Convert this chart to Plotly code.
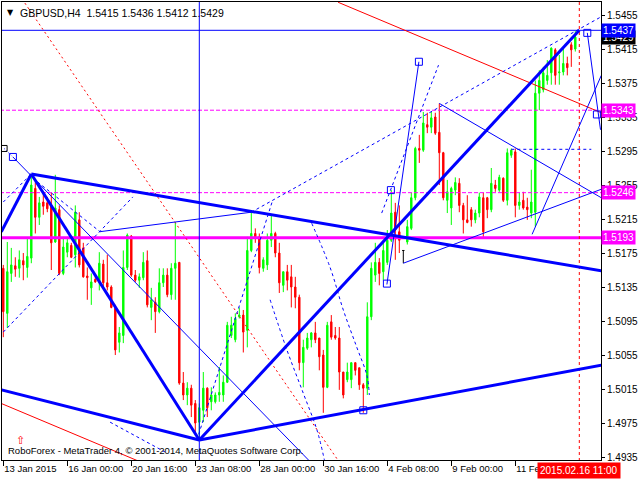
import plotly.graph_objects as go

# ---------------- data ----------------
symbol = "GBPUSD,H4"
opens = [1.5157, 1.5104, 1.5151, 1.5160, 1.5157, 1.5166, 1.5158, 1.5169, 1.5251, 1.5217,
         1.5235, 1.5234, 1.5231, 1.5188, 1.5226, 1.5151, 1.5176, 1.5184, 1.5173, 1.5214,
         1.5181, 1.5148, 1.5134, 1.5144, 1.5141, 1.5162, 1.5140, 1.5135, 1.5110, 1.5070,
         1.5078, 1.5158, 1.5195, 1.5149, 1.5143, 1.5146, 1.5166, 1.5111, 1.5117, 1.5106,
         1.5140, 1.5149, 1.5126, 1.5157, 1.5164, 1.5022, 1.5008, 1.5016, 1.4998, 1.4976,
         1.4990, 1.5016, 1.5000, 1.5000, 1.5008, 1.5008, 1.5023, 1.5078, 1.5073, 1.5100,
         1.5102, 1.5084, 1.5178, 1.5198, 1.5194, 1.5157, 1.5161, 1.5190, 1.5198, 1.5175,
         1.5137, 1.5153, 1.5147, 1.5135, 1.5123, 1.5046, 1.5063, 1.5073, 1.5081, 1.5075,
         1.5055, 1.5017, 1.5094, 1.5078, 1.5075, 1.5035, 1.5026, 1.5026, 1.5046, 1.5040,
         1.5020, 1.5016, 1.5100, 1.5149, 1.5164, 1.5153, 1.5164, 1.5190, 1.5223, 1.5200,
         1.5178, 1.5188, 1.5204, 1.5240, 1.5298, 1.5296, 1.5326, 1.5323, 1.5335, 1.5317,
         1.5293, 1.5237, 1.5228, 1.5249, 1.5257, 1.5231, 1.5214, 1.5226, 1.5214, 1.5222,
         1.5240, 1.5240, 1.5226, 1.5255, 1.5249, 1.5263, 1.5237, 1.5290, 1.5294, 1.5231,
         1.5237, 1.5229, 1.5222, 1.5223, 1.5363, 1.5367, 1.5378, 1.5387, 1.5414, 1.5387,
         1.5388, 1.5398, 1.5420, 1.5415]
highs = [1.5161, 1.5188, 1.5181, 1.5170, 1.5178, 1.5175, 1.5193, 1.5268, 1.5258, 1.5241,
         1.5246, 1.5241, 1.5246, 1.5267, 1.5231, 1.5194, 1.5194, 1.5187, 1.5231, 1.5223,
         1.5187, 1.5158, 1.5151, 1.5147, 1.5176, 1.5167, 1.5173, 1.5137, 1.5114, 1.5088,
         1.5178, 1.5198, 1.5196, 1.5155, 1.5151, 1.5176, 1.5178, 1.5134, 1.5123, 1.5157,
         1.5157, 1.5157, 1.5163, 1.5211, 1.5164, 1.5035, 1.5023, 1.5020, 1.5002, 1.4998,
         1.5035, 1.5017, 1.5017, 1.5011, 1.5041, 1.5031, 1.5094, 1.5100, 1.5104, 1.5111,
         1.5108, 1.5194, 1.5223, 1.5204, 1.5198, 1.5170, 1.5198, 1.5220, 1.5200, 1.5187,
         1.5153, 1.5161, 1.5161, 1.5147, 1.5126, 1.5073, 1.5081, 1.5082, 1.5094, 1.5075,
         1.5061, 1.5094, 1.5102, 1.5088, 1.5088, 1.5035, 1.5046, 1.5046, 1.5046, 1.5040,
         1.5022, 1.5117, 1.5164, 1.5187, 1.5169, 1.5190, 1.5202, 1.5249, 1.5234, 1.5231,
         1.5178, 1.5214, 1.5246, 1.5300, 1.5314, 1.5341, 1.5340, 1.5341, 1.5340, 1.5351,
         1.5294, 1.5261, 1.5253, 1.5264, 1.5263, 1.5234, 1.5243, 1.5229, 1.5226, 1.5246,
         1.5246, 1.5241, 1.5275, 1.5261, 1.5267, 1.5264, 1.5298, 1.5298, 1.5298, 1.5246,
         1.5247, 1.5240, 1.5273, 1.5378, 1.5390, 1.5394, 1.5402, 1.5417, 1.5416, 1.5408,
         1.5417, 1.5406, 1.5423, 1.5436]
lows = [1.5076, 1.5087, 1.5141, 1.5147, 1.5146, 1.5143, 1.5146, 1.5163, 1.5198, 1.5208,
        1.5220, 1.5223, 1.5155, 1.5187, 1.5149, 1.5149, 1.5170, 1.5169, 1.5158, 1.5158,
        1.5146, 1.5120, 1.5114, 1.5140, 1.5131, 1.5135, 1.5131, 1.5110, 1.5055, 1.5058,
        1.5069, 1.5155, 1.5147, 1.5141, 1.5134, 1.5143, 1.5111, 1.5096, 1.5081, 1.5104,
        1.5135, 1.5123, 1.5120, 1.5120, 1.5020, 1.5002, 1.4996, 1.4982, 1.4961, 1.4955,
        1.4976, 1.4982, 1.4990, 1.4998, 1.5000, 1.5000, 1.5022, 1.5075, 1.5070, 1.5098,
        1.5058, 1.5064, 1.5176, 1.5187, 1.5151, 1.5153, 1.5155, 1.5182, 1.5170, 1.5128,
        1.5129, 1.5131, 1.5111, 1.5110, 1.5037, 1.5017, 1.5061, 1.5064, 1.5069, 1.5037,
        1.4987, 1.5016, 1.5073, 1.5073, 1.5014, 1.5004, 1.5023, 1.5016, 1.5031, 1.5014,
        1.4987, 1.5008, 1.5096, 1.5141, 1.5137, 1.5143, 1.5161, 1.5188, 1.5167, 1.5175,
        1.5163, 1.5185, 1.5202, 1.5237, 1.5281, 1.5294, 1.5316, 1.5316, 1.5314, 1.5255,
        1.5237, 1.5222, 1.5208, 1.5243, 1.5223, 1.5198, 1.5210, 1.5206, 1.5210, 1.5217,
        1.5194, 1.5216, 1.5223, 1.5247, 1.5247, 1.5235, 1.5231, 1.5287, 1.5217, 1.5226,
        1.5226, 1.5214, 1.5216, 1.5206, 1.5343, 1.5364, 1.5373, 1.5373, 1.5373, 1.5373,
        1.5384, 1.5384, 1.5394, 1.5412]
closes = [1.5106, 1.5153, 1.5161, 1.5156, 1.5167, 1.5161, 1.5171, 1.5255, 1.5217, 1.5234,
          1.5230, 1.5227, 1.5187, 1.5228, 1.5151, 1.5182, 1.5187, 1.5170, 1.5223, 1.5161,
          1.5147, 1.5146, 1.5141, 1.5141, 1.5163, 1.5140, 1.5135, 1.5111, 1.5061, 1.5081,
          1.5158, 1.5196, 1.5149, 1.5143, 1.5147, 1.5164, 1.5114, 1.5120, 1.5106, 1.5140,
          1.5149, 1.5126, 1.5157, 1.5163, 1.5022, 1.5008, 1.5016, 1.4996, 1.4975, 1.4993,
          1.5016, 1.4993, 1.5008, 1.5008, 1.5011, 1.5023, 1.5090, 1.5090, 1.5098, 1.5102,
          1.5082, 1.5178, 1.5198, 1.5194, 1.5158, 1.5167, 1.5190, 1.5198, 1.5175, 1.5140,
          1.5153, 1.5143, 1.5135, 1.5123, 1.5046, 1.5064, 1.5075, 1.5081, 1.5073, 1.5053,
          1.5017, 1.5090, 1.5076, 1.5075, 1.5035, 1.5008, 1.5035, 1.5046, 1.5037, 1.5020,
          1.5016, 1.5100, 1.5157, 1.5164, 1.5151, 1.5178, 1.5190, 1.5222, 1.5202, 1.5190,
          1.5178, 1.5206, 1.5240, 1.5298, 1.5296, 1.5328, 1.5323, 1.5334, 1.5316, 1.5293,
          1.5240, 1.5247, 1.5251, 1.5258, 1.5231, 1.5214, 1.5211, 1.5214, 1.5222, 1.5241,
          1.5200, 1.5226, 1.5257, 1.5251, 1.5264, 1.5237, 1.5293, 1.5296, 1.5231, 1.5235,
          1.5228, 1.5226, 1.5235, 1.5363, 1.5378, 1.5387, 1.5384, 1.5416, 1.5384, 1.5388,
          1.5398, 1.5393, 1.5414, 1.5429]
doji_bar = 100          # drawn in the neutral (black) colour

tick_bars = [0, 16, 32, 48, 64, 80, 96, 112, 128]
tick_texts = ["13 Jan 2015", "16 Jan 00:00", "20 Jan 16:00", "23 Jan 08:00", "28 Jan 00:00",
              "30 Jan 16:00", "4 Feb 08:00", "9 Feb 00:00", "11 Feb 16:00"]
price_ticks = [1.4935, 1.4975, 1.5015, 1.5055, 1.5095, 1.5135, 1.5175, 1.5215,
               1.5255, 1.5295, 1.5335, 1.5375, 1.5415, 1.5455]
cursor_bar = 144
cursor_text = "2015.02.16 11:00"
copyright_text = "RoboForex - MetaTrader 4, © 2001-2014, MetaQuotes Software Corp."

# horizontal levels: (price, colour, width, dash)
h_levels = [(1.5437, "#0000ff", 1, "solid"),
            (1.5343, "#ff00ff", 1, "4px,2px"),
            (1.5246, "#ff00ff", 1, "4px,2px"),
            (1.5193, "#ff00ff", 3, "solid")]
# trend lines (bar0, price0, bar1, price1)
thick_lines = [(-0.5, 1.5200, 7, 1.5268),
               (7, 1.5268, 49, 1.4955),
               (7, 1.5268, 149.5, 1.5154),
               (49, 1.4955, 144, 1.5437),
               (49, 1.4955, 149.5, 1.5043),
               (-0.5, 1.5014, 49, 1.4955)]
thin_lines = [(2.4, 1.5288, 76.4, 1.4931),
              (24, 1.5200, 62, 1.5223),
              (109, 1.5351, 149.5, 1.5240),
              (100, 1.5163, 149.5, 1.5250),
              (103.9, 1.5400, 95.9, 1.5138),
              (146, 1.5434, 149.3, 1.5320),
              (132.2, 1.5197, 149.5, 1.5384)]
dashed_lines = [(0, 1.5082, 32.4, 1.5241),
                (0, 1.5235, 7, 1.5268),
                (7.4, 1.5263, 24.2, 1.5200),
                (48.4, 1.4955, 67.2, 1.5235),
                (62, 1.5223, 149.5, 1.5453),
                (127, 1.5297, 147, 1.5297),
                (94.6, 1.5222, 108.8, 1.5396),
                (26.7, 1.4976, 40.4, 1.4941)]
# dashed Fibonacci arcs (bar, price) polylines
arcs = [[(77.1, 1.5210), (81.7, 1.5158), (85.0, 1.5108), (88.3, 1.5065), (90.9, 1.5031), (91.5, 1.5008)],
        [(66.7, 1.5120), (70.9, 1.5061), (75.0, 1.5010), (78.4, 1.4967), (80.3, 1.4931)]]
red_lines = [(-0.5, 1.4998, 33.4, 1.4931),
             (83.7, 1.5470, 149.5, 1.5340)]
red_dotted = [(5.4, 1.5469, 83.7, 1.4931)]
dotted_black = [(0.2, 1.5298, 2.4, 1.5288)]
vertical_blue_bar = 49
anchor_bars = [2.4, 103.9, 96.9, 95.9, 90, 146, 148.4]
anchor_prices = [1.5288, 1.5400, 1.5249, 1.5139, 1.4990, 1.5434, 1.5338]

# ---------------- figure ----------------
x0, x1 = -0.325, 149.425
y0, y1 = 1.49315, 1.54703
fig = go.Figure()

keep = [i for i in range(len(opens)) if i != doji_bar]
fig.add_trace(go.Candlestick(
    x=keep, open=[opens[i] for i in keep], high=[highs[i] for i in keep],
    low=[lows[i] for i in keep], close=[closes[i] for i in keep],
    increasing=dict(line=dict(color="#00ff00", width=1), fillcolor="#00ff00"),
    decreasing=dict(line=dict(color="#ff0000", width=1), fillcolor="#ff0000"),
    whiskerwidth=0, showlegend=False, hoverinfo="skip"))
fig.add_trace(go.Scatter(
    x=[doji_bar, doji_bar, None, doji_bar - 0.3, doji_bar + 0.3],
    y=[highs[doji_bar], lows[doji_bar], None, opens[doji_bar], closes[doji_bar]],
    mode="lines", line=dict(color="black", width=1), showlegend=False, hoverinfo="skip"))


def seg(lst, color, width, dash="solid"):
    xs, ys = [], []
    for a, pa, b, pb in lst:
        xs += [a, b, None]
        ys += [pa, pb, None]
    fig.add_trace(go.Scatter(x=xs, y=ys, mode="lines", showlegend=False, hoverinfo="skip",
                             line=dict(color=color, width=width, dash=dash)))


for p, c, w, d in h_levels:
    seg([(x0 - 2, p, x1 + 2, p)], c, w, d)
seg([(vertical_blue_bar, y0 - 0.01, vertical_blue_bar, y1 + 0.01)], "#0000ff", 1)
seg([(cursor_bar, y0 - 0.01, cursor_bar, y1 + 0.01)], "#ff0000", 1, "3px,3px")
seg(red_dotted, "#ff0000", 1, "2px,3px")
seg(red_lines, "#ff0000", 1)
seg(dashed_lines, "#0000ff", 1, "3px,3px")
for arc in arcs:
    fig.add_trace(go.Scatter(x=[a for a, _ in arc], y=[b for _, b in arc], mode="lines",
                             line=dict(color="#0000ff", width=1, dash="3px,3px", shape="spline"),
                             showlegend=False, hoverinfo="skip"))
seg(dotted_black, "#0000ff", 1, "1px,2px")
seg(thin_lines, "#0000ff", 1)
seg(thick_lines, "#0000ff", 3)
fig.add_trace(go.Scatter(x=anchor_bars, y=anchor_prices, mode="markers", showlegend=False,
                         hoverinfo="skip",
                         marker=dict(symbol="square-open", size=7, color="#0000ff",
                                     line=dict(width=1, color="#0000ff"))))
fig.add_trace(go.Scatter(x=[0.2], y=[1.5298], mode="markers", showlegend=False, hoverinfo="skip",
                         marker=dict(symbol="square-open", size=6, color="black",
                                     line=dict(width=1, color="black"))))

font = "Liberation Sans"
ann = []
title = "%s  %.4f %.4f %.4f %.4f" % (symbol, opens[-1], highs[-1], lows[-1], closes[-1])
ann.append(dict(xref="paper", yref="paper", x=0, y=1, xshift=3, yshift=-4,
                xanchor="left", yanchor="top", showarrow=False, text="▼",
                font=dict(family="DejaVu Sans", size=8, color="black")))
ann.append(dict(xref="paper", yref="paper", x=0, y=1, xshift=16, yshift=-3,
                xanchor="left", yanchor="top", showarrow=False, text=title,
                font=dict(family=font, size=10.5, color="black")))
ann.append(dict(xref="paper", yref="paper", x=0, y=0, xshift=4, yshift=2,
                xanchor="left", yanchor="bottom", showarrow=False, text=copyright_text,
                font=dict(family=font, size=9.5, color="black")))
ann.append(dict(xref="paper", yref="paper", x=0, y=0, xshift=12, yshift=11,
                xanchor="left", yanchor="bottom", showarrow=False, text="⇧",
                font=dict(family="DejaVu Sans", size=11, color="#ff0000")))


def price_box(p, bg):
    ann.append(dict(xref="paper", yref="y", x=1, y=p, xshift=0, xanchor="left",
                    yanchor="middle", showarrow=False, text="%.4f" % p,
                    bgcolor=bg, borderpad=1, font=dict(family=font, size=10, color="white")))


price_box(closes[-1], "black")
for p, c, w, d in h_levels:
    price_box(p, c)
ann.append(dict(xref="x", yref="paper", x=cursor_bar, y=0, yshift=-2, xanchor="center",
                yanchor="top", showarrow=False, text=cursor_text, bgcolor="#ff0000",
                borderpad=2, font=dict(family=font, size=10, color="white")))

fig.update_layout(
    width=640, height=480, margin=dict(l=2, r=39, t=2, b=20),
    paper_bgcolor="white", plot_bgcolor="white", showlegend=False, boxgap=0.5,
    annotations=ann,
    xaxis=dict(range=[x0, x1], showgrid=False, zeroline=False, showline=True, mirror=True,
               linecolor="black", linewidth=1, ticks="outside", ticklen=5, tickcolor="black",
               tickvals=tick_bars, ticktext=tick_texts, ticklabelposition="outside right",
               tickangle=0, automargin=False,
               tickfont=dict(family=font, size=9.5, color="black"),
               rangeslider=dict(visible=False)),
    yaxis=dict(range=[y0, y1], side="right", showgrid=False, zeroline=False, showline=True,
               mirror=True, linecolor="black", linewidth=1, ticks="outside", ticklen=3,
               tickcolor="black", tickvals=price_ticks, automargin=False,
               ticktext=["%.4f" % v for v in price_ticks],
               tickfont=dict(family=font, size=10, color="black")),
)
fig.write_html("out.html", config={"displayModeBar": False},
               post_script="document.body.style.margin='0';")
